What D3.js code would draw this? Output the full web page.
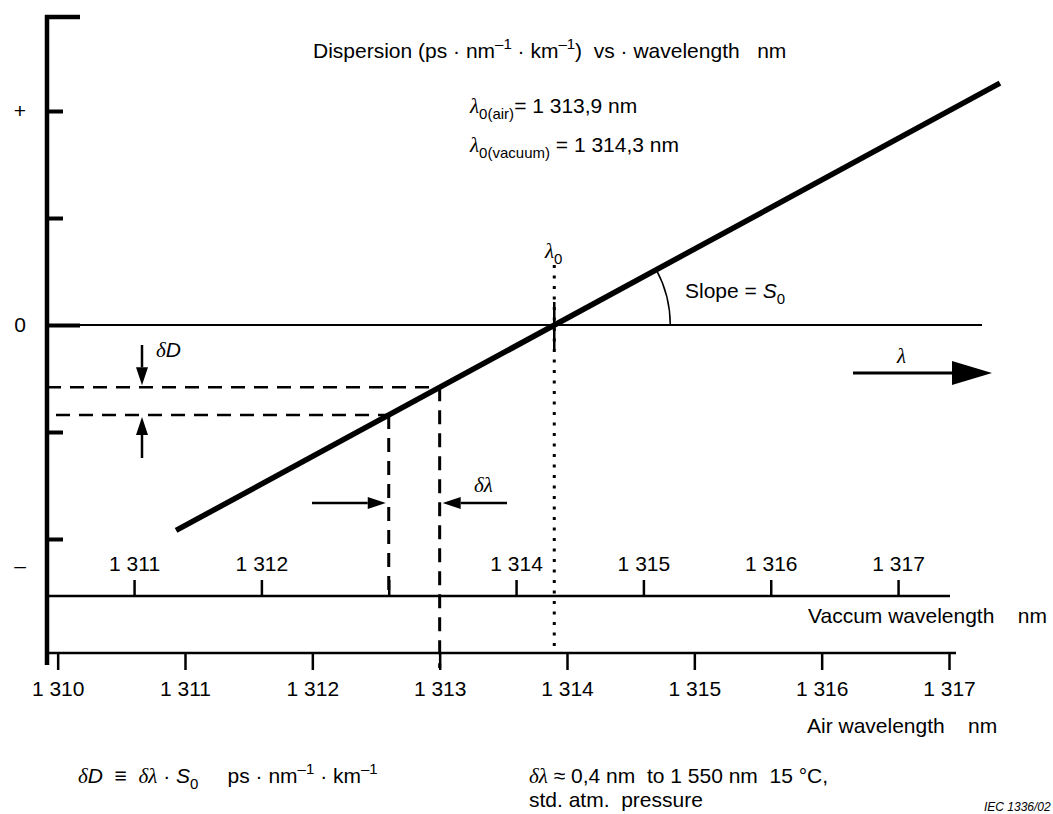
<!DOCTYPE html>
<html>
<head>
<meta charset="utf-8">
<script src="https://cdn.jsdelivr.net/npm/d3@7"></script>
<style>
  body { margin: 0; background: #fff; }
  svg text { font-family: "Liberation Sans", Arial, sans-serif; font-size: 21px; fill: #000; white-space: pre; }
  svg text .greek { font-family: "Liberation Serif", serif; font-style: italic; }
</style>
</head>
<body>
<div id="chart"></div>
<script>
// air wavelength ticks (nm)
const airTicks = [1310, 1311, 1312, 1313, 1314, 1315, 1316, 1317];
// vacuum wavelength ticks (nm); the 1 313 label is not printed in the figure
const vacTicks = [1311, 1312, 1313, 1314, 1315, 1316, 1317];
const vacLabelled = [1311, 1312, 1314, 1315, 1316, 1317];
// vacuum minus air wavelength (nm)
const vacShift = 0.4;
// zero dispersion wavelength, air (nm)
const lambda0 = 1313.9;
// dispersion line end points: air wavelength, relative dispersion
const lineLambda = [1310.93, 1317.40];
const lineD = [-1.92, 2.26];
// the two wavelengths of the delta construction
const deltaLambda = [1312.6, 1313.0];
// dispersion axis ticks and labels
const dTicks = [-2, -1, 0, 1, 2];
const dLabelValues = [2, 0, -2.25];
const dLabelTexts = ["+", "0", "\u2013"];

const width = 1053, height = 814;

// number format with a space as thousands separator, comma as decimal
const fmt = d3.formatLocale({ decimal: ",", thousands: " ", grouping: [3], currency: ["", ""] }).format(",");

const svg = d3.select("#chart")
    .append("svg")
    .attr("width", width)
    .attr("height", height);

// scales
const x = d3.scaleLinear().domain([1311, 1317]).range([185, 949]);
const xv = d3.scaleLinear().domain([1311 + vacShift, 1317 + vacShift]).range([185, 949]);
const y = d3.scaleLinear().domain([-2, 2]).range([539, 111]);

const axisX = 47, airY = 653, vacY = 596;

// left (dispersion) axis
svg.append("line")
    .attr("x1", axisX).attr("x2", axisX)
    .attr("y1", 15).attr("y2", 665)
    .attr("stroke", "#000").attr("stroke-width", 4.5);
svg.append("line")
    .attr("x1", axisX - 2).attr("x2", 80)
    .attr("y1", 17).attr("y2", 17)
    .attr("stroke", "#000").attr("stroke-width", 4.5);

const yAxis = svg.append("g")
    .attr("transform", "translate(" + axisX + ",0)")
    .call(d3.axisRight(y).tickValues(dTicks).tickSize(16).tickFormat(""));
yAxis.select(".domain").remove();
yAxis.selectAll(".tick line").attr("stroke-width", 4)
    .attr("x2", d => d === 0 ? 33 : 16);

svg.selectAll(".dlabel")
    .data(dLabelValues)
    .join("text")
    .attr("class", "dlabel")
    .attr("x", 20)
    .attr("y", d => y(d))
    .attr("dy", "0.35em")
    .attr("text-anchor", "middle")
    .text((d, i) => dLabelTexts[i]);

// zero line
svg.append("line")
    .attr("x1", axisX).attr("x2", 982)
    .attr("y1", y(0)).attr("y2", y(0))
    .attr("stroke", "#000").attr("stroke-width", 2);

// vacuum wavelength axis
svg.append("line")
    .attr("x1", axisX).attr("x2", 950)
    .attr("y1", vacY).attr("y2", vacY)
    .attr("stroke", "#000").attr("stroke-width", 2.5);
const vAxis = svg.append("g")
    .attr("transform", "translate(0," + vacY + ")")
    .call(d3.axisTop(xv).tickValues(vacTicks).tickSize(16).tickPadding(9)
        .tickFormat(d => vacLabelled.includes(d) ? fmt(d) : ""));
vAxis.select(".domain").remove();
vAxis.selectAll(".tick line").attr("stroke-width", 2.5);

// air wavelength axis
svg.append("line")
    .attr("x1", axisX).attr("x2", 956)
    .attr("y1", airY).attr("y2", airY)
    .attr("stroke", "#000").attr("stroke-width", 2.5);
const aAxis = svg.append("g")
    .attr("transform", "translate(0," + airY + ")")
    .call(d3.axisBottom(x).tickValues(airTicks).tickSize(17).tickPadding(11).tickFormat(fmt));
aAxis.select(".domain").remove();
aAxis.selectAll(".tick line").attr("stroke-width", 2.5);

// delta construction (dashed)
const dAt = d3.scaleLinear().domain(lineLambda).range(lineD);
const deltaD = deltaLambda.map(dAt);
const dash = "14,9";
svg.append("line")
    .attr("x1", axisX).attr("x2", x(deltaLambda[1]))
    .attr("y1", y(deltaD[1])).attr("y2", y(deltaD[1]))
    .attr("stroke", "#000").attr("stroke-width", 2.5).attr("stroke-dasharray", dash);
svg.append("line")
    .attr("x1", 56).attr("x2", x(deltaLambda[0]))
    .attr("y1", y(deltaD[0])).attr("y2", y(deltaD[0]))
    .attr("stroke", "#000").attr("stroke-width", 2.5).attr("stroke-dasharray", dash);
svg.append("line")
    .attr("x1", x(deltaLambda[1])).attr("x2", x(deltaLambda[1]))
    .attr("y1", y(deltaD[1])).attr("y2", 668)
    .attr("stroke", "#000").attr("stroke-width", 3).attr("stroke-dasharray", dash);
svg.append("line")
    .attr("x1", x(deltaLambda[0])).attr("x2", x(deltaLambda[0]))
    .attr("y1", y(deltaD[0])).attr("y2", vacY)
    .attr("stroke", "#000").attr("stroke-width", 3).attr("stroke-dasharray", dash);

// lambda0 marker (dotted) and short solid tick
svg.append("line")
    .attr("x1", x(lambda0)).attr("x2", x(lambda0))
    .attr("y1", 265).attr("y2", 646)
    .attr("stroke", "#000").attr("stroke-width", 3).attr("stroke-dasharray", "3,7.5");
svg.append("line")
    .attr("x1", x(lambda0)).attr("x2", x(lambda0))
    .attr("y1", 302).attr("y2", 350)
    .attr("stroke", "#000").attr("stroke-width", 2.5);

// dispersion line
svg.append("path")
    .datum(lineLambda.map((l, i) => [l, lineD[i]]))
    .attr("fill", "none")
    .attr("stroke", "#000")
    .attr("stroke-width", 5.5)
    .attr("d", d3.line().x(d => x(d[0])).y(d => y(d[1])));

// slope arc
const theta = Math.atan2(y(lineD[0]) - y(lineD[1]), x(lineLambda[1]) - x(lineLambda[0]));
svg.append("path")
    .attr("transform", "translate(" + x(lambda0) + "," + y(0) + ")")
    .attr("fill", "none").attr("stroke", "#000").attr("stroke-width", 1.5)
    .attr("d", d3.arc()({ innerRadius: 116, outerRadius: 116, startAngle: Math.PI / 2 - theta, endAngle: Math.PI / 2 }));

// arrows
function arrow(x1, y1, x2, y2, len, half, sw) {
    const a = Math.atan2(y2 - y1, x2 - x1);
    const bx = x2 - len * Math.cos(a), by = y2 - len * Math.sin(a);
    svg.append("line")
        .attr("x1", x1).attr("y1", y1).attr("x2", bx).attr("y2", by)
        .attr("stroke", "#000").attr("stroke-width", sw);
    const px = -Math.sin(a) * half, py = Math.cos(a) * half;
    svg.append("path")
        .attr("d", "M" + x2 + "," + y2 + "L" + (bx + px) + "," + (by + py) + "L" + (bx - px) + "," + (by - py) + "Z")
        .attr("fill", "#000");
}
arrow(142, 345, 142, y(deltaD[1]) - 2, 18, 6, 2.5);
arrow(142, 458, 142, y(deltaD[0]) + 2, 18, 6, 2.5);
arrow(312, 503, x(deltaLambda[0]) - 3, 503, 18, 6, 2.5);
arrow(507, 503, x(deltaLambda[1]) + 3, 503, 18, 6, 2.5);
arrow(853, 373, 992, 373, 40, 12, 3);

// text with sub/superscripts and italics
function rich(x0, y0, parts) {
    const t = svg.append("text").attr("x", x0).attr("y", y0);
    let shift = 0;
    parts.forEach(p => {
        const ts = t.append("tspan").text(p.t);
        const target = p.sub ? 6 : p.sup ? -9 : 0;
        if (target - shift !== 0) ts.attr("dy", target - shift);
        shift = target;
        if (p.sub || p.sup) ts.attr("font-size", 15);
        if (p.greek) ts.attr("class", "greek");
        if (p.it) ts.attr("font-style", "italic");
    });
    return t;
}

rich(313, 58, [
    { t: "Dispersion (ps \u00b7 nm" }, { t: "\u20131", sup: true },
    { t: " \u00b7 km" }, { t: "\u20131", sup: true },
    { t: ")  vs \u00b7 wavelength   nm" }
]);
rich(470, 113, [{ t: "\u03bb", greek: true }, { t: "0(air)", sub: true }, { t: "= 1 313,9 nm" }]);
rich(470, 152, [{ t: "\u03bb", greek: true }, { t: "0(vacuum)", sub: true }, { t: " = 1 314,3 nm" }]);

rich(545, 258, [{ t: "\u03bb", greek: true }, { t: "0", sub: true }]);
rich(685, 298, [{ t: "Slope = " }, { t: "S", it: true }, { t: "0", sub: true }]);
rich(897, 363, [{ t: "\u03bb", greek: true }]);
rich(156, 357, [{ t: "\u03b4", greek: true }, { t: "D", it: true }]);
rich(474, 492, [{ t: "\u03b4\u03bb", greek: true }]);

svg.append("text").attr("x", 808).attr("y", 623).text("Vaccum wavelength    nm");
svg.append("text").attr("x", 807).attr("y", 733).text("Air wavelength    nm");

rich(78, 783, [
    { t: "\u03b4", greek: true }, { t: "D", it: true }, { t: "  \u2261  " },
    { t: "\u03b4\u03bb", greek: true }, { t: " \u00b7 " }, { t: "S", it: true }, { t: "0", sub: true },
    { t: "     ps \u00b7 nm" }, { t: "\u20131", sup: true }, { t: " \u00b7 km" }, { t: "\u20131", sup: true }
]);
rich(529, 783, [{ t: "\u03b4\u03bb", greek: true }, { t: " \u2248 0,4 nm  to 1 550 nm  15 \u00b0C," }]);
svg.append("text").attr("x", 529).attr("y", 807).text("std. atm.  pressure");

svg.append("text").attr("x", 984).attr("y", 811)
    .style("font-size", "12px").style("font-style", "italic")
    .text("IEC 1336/02");
</script>
</body>
</html>
